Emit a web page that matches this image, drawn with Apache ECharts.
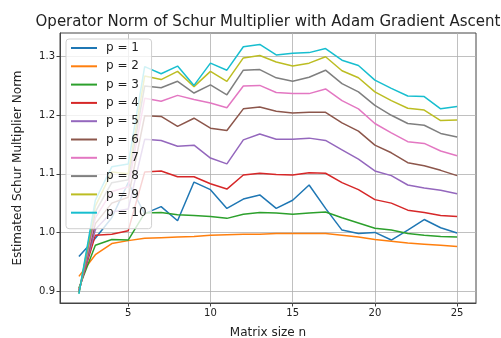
<!DOCTYPE html>
<html>
<head>
<meta charset="utf-8">
<script src="https://cdn.jsdelivr.net/npm/echarts@6/dist/echarts.min.js"></script>
<style>html,body{margin:0;padding:0;background:#fff;}#c{width:501px;height:338px;}</style>
</head>
<body>
<div id="c"></div>
<script>
const N = [2,3,4,5,6,7,8,9,10,11,12,13,14,15,16,17,18,19,20,21,22,23,24,25];
const p1  = [0.959,0.990,1.025,1.085,1.032,1.044,1.020,1.086,1.073,1.041,1.057,1.064,1.041,1.055,1.081,1.041,1.004,0.998,1.000,0.987,1.004,1.022,1.008,0.999];
const p2  = [0.925,0.962,0.981,0.986,0.990,0.991,0.992,0.993,0.995,0.996,0.997,0.997,0.998,0.998,0.998,0.998,0.995,0.992,0.988,0.985,0.982,0.980,0.978,0.976];
const p3  = [0.905,0.978,0.988,0.987,1.033,1.034,1.030,1.029,1.027,1.024,1.031,1.034,1.033,1.031,1.033,1.035,1.025,1.016,1.007,1.004,0.998,0.995,0.993,0.992];
const p4  = [0.902,0.995,0.997,1.003,1.103,1.105,1.095,1.095,1.083,1.074,1.098,1.101,1.099,1.098,1.102,1.101,1.085,1.073,1.056,1.050,1.038,1.034,1.029,1.027];
const p5  = [0.900,1.005,1.035,1.040,1.159,1.157,1.147,1.149,1.127,1.117,1.158,1.168,1.159,1.159,1.161,1.157,1.141,1.125,1.105,1.097,1.081,1.076,1.072,1.066];
const p6  = [0.899,1.015,1.050,1.060,1.199,1.198,1.181,1.195,1.178,1.174,1.211,1.214,1.207,1.204,1.205,1.205,1.187,1.173,1.149,1.136,1.119,1.114,1.106,1.097];
const p7  = [0.898,1.025,1.070,1.078,1.229,1.224,1.234,1.227,1.221,1.213,1.250,1.251,1.239,1.237,1.237,1.245,1.225,1.211,1.186,1.170,1.155,1.152,1.139,1.131];
const p8  = [0.897,1.035,1.085,1.090,1.250,1.247,1.258,1.238,1.252,1.235,1.277,1.278,1.264,1.258,1.265,1.277,1.254,1.240,1.217,1.200,1.186,1.183,1.169,1.163];
const p9  = [0.896,1.045,1.103,1.100,1.267,1.261,1.275,1.249,1.275,1.258,1.298,1.302,1.291,1.284,1.289,1.300,1.276,1.264,1.240,1.225,1.212,1.209,1.191,1.192];
const p10 = [0.895,1.055,1.112,1.117,1.283,1.271,1.284,1.251,1.289,1.277,1.317,1.321,1.303,1.306,1.307,1.314,1.294,1.285,1.260,1.246,1.233,1.232,1.211,1.215];
const seriesNames = ['p = 1','p = 2','p = 3','p = 4','p = 5','p = 6','p = 7','p = 8','p = 9','p = 10'];
const seriesData = [p1,p2,p3,p4,p5,p6,p7,p8,p9,p10];
const colors = ['#1f77b4','#ff7f0e','#2ca02c','#d62728','#9467bd','#8c564b','#e377c2','#7f7f7f','#bcbd22','#17becf'];
const xTicks = [5,10,15,20,25];
const yTicks = [0.9,1.0,1.1,1.2,1.3];

const FONT = 'DejaVu Sans';
const chart = echarts.init(document.getElementById('c'), null, {renderer:'canvas'});
const option = {
  animation:false,
  color: colors,
  textStyle:{fontFamily:FONT},
  title:{
    text:'Operator Norm of Schur Multiplier with Adam Gradient Ascent',
    left:263, top:10, textAlign:'center',
    textStyle:{fontFamily:FONT, fontSize:15, fontWeight:'normal', color:'#222'}
  },
  grid:{left:60, right:25, top:33, bottom:35, containLabel:false, outerBoundsMode:'none',
    show:true, borderColor:'#444', borderWidth:1, backgroundColor:'transparent'},
  legend:{
    orient:'vertical', left:66, top:39,
    itemWidth:26, itemHeight:14, itemGap:4.3,
    padding:[2,5,9,4],
    itemStyle:{opacity:0},
    backgroundColor:'rgba(255,255,255,0.8)', borderColor:'#d0d0d0', borderWidth:1, borderRadius:3,
    textStyle:{fontFamily:FONT, fontSize:12, lineHeight:14, color:'#222', padding:[0,0,0,4]},
    data: seriesNames
  },
  xAxis:{
    type:'value', min:0.85, max:26.15,
    name:'Matrix size n', nameLocation:'middle', nameGap:24,
    nameTextStyle:{fontFamily:FONT, fontSize:12, color:'#222'},
    axisLine:{show:true, lineStyle:{color:'#444', width:1}},
    axisTick:{show:true, length:3.5, lineStyle:{color:'#444'}, customValues:xTicks},
    axisLabel:{customValues:xTicks, fontFamily:FONT, fontSize:10, color:'#222', margin:5},
    splitLine:{show:true, lineStyle:{color:'#b0b0b0', width:0.8}}
  },
  yAxis:{
    type:'value', min:0.8795, max:1.3405,
    name:'Estimated Schur Multiplier Norm', nameLocation:'middle', nameGap:36,
    nameTextStyle:{fontFamily:FONT, fontSize:12, color:'#222'},
    axisLine:{show:true, lineStyle:{color:'#444', width:1}},
    axisTick:{show:true, length:3.5, lineStyle:{color:'#444'}, customValues:yTicks},
    axisLabel:{customValues:yTicks, fontFamily:FONT, fontSize:10, color:'#222', margin:5,
      formatter:(v)=>v.toFixed(1)},
    splitLine:{show:true, lineStyle:{color:'#b0b0b0', width:0.8}}
  },
  series: seriesNames.map((nm,i)=>({
    name:nm, type:'line', symbol:'none', showSymbol:false,
    data: N.map((n,j)=>[n, seriesData[i][j]]),
    lineStyle:{width:1.5, color:colors[i]},
    itemStyle:{color:colors[i]}
  }))
};
chart.setOption(option);
</script>
</body>
</html>
